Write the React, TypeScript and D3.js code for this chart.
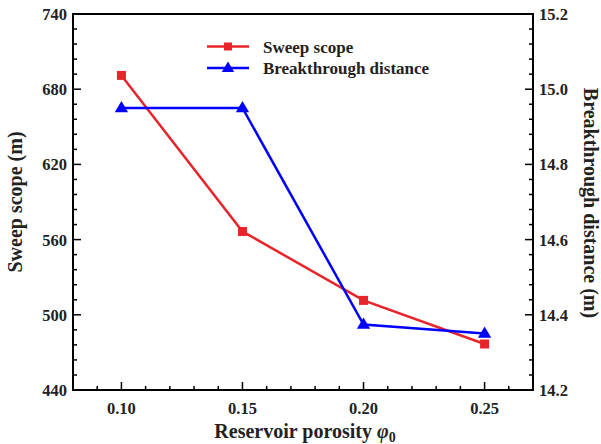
import React from "react";
import * as d3 from "d3";

const porosity = [0.1, 0.15, 0.2, 0.25];
const sweepScope = [691, 566.5, 511.5, 476.7];
const breakthrough = [14.95, 14.95, 14.374, 14.35];
const xTicks = [0.1, 0.15, 0.2, 0.25];
const yLeftTicks = [440, 500, 560, 620, 680, 740];
const yRightTicks = [14.2, 14.4, 14.6, 14.8, 15.0, 15.2];

const W = 601, H = 444;
const m = { left: 73, right: 533, top: 14, bottom: 390 };
const RED = "#e8242a";
const BLUE = "#0000ff";
const FONT = "'Liberation Serif', 'Times New Roman', serif";

export default function App() {
  const x = d3.scaleLinear().domain([0.08, 0.27]).range([m.left, m.right]);
  const yL = d3.scaleLinear().domain([440, 740]).range([m.bottom, m.top]);
  const yR = d3.scaleLinear().domain([14.2, 15.2]).range([m.bottom, m.top]);

  const xMinor = d3.range(0.08, 0.2701, 0.01).map((v) => +v.toFixed(3));
  const yLMinor = d3.range(440, 741, 12);
  const yRMinor = d3.range(14.2, 15.2001, 0.04).map((v) => +v.toFixed(3));

  const lineL = d3.line<number>().x((_, i) => x(porosity[i])).y((d) => yL(d));
  const lineR = d3.line<number>().x((_, i) => x(porosity[i])).y((d) => yR(d));

  const tri = (cx: number, cy: number, s = 7) =>
    `M${cx},${cy - s}L${cx + s * 0.95},${cy + s * 0.6}L${cx - s * 0.95},${cy + s * 0.6}Z`;

  const major = 8, minor = 4;

  return (
    <svg width={W} height={H} style={{ position: "absolute", left: 0, top: 0, background: "#fff" }} fontFamily={FONT}>
      <rect x={0} y={0} width={W} height={H} fill="#fff" />
      <g stroke="#000" strokeWidth={1.5}>
        {xMinor.map((v, i) => {
          const isMaj = xTicks.some((t) => Math.abs(t - v) < 1e-6);
          return <line key={"x" + i} x1={x(v)} x2={x(v)} y1={m.bottom} y2={m.bottom - (isMaj ? major : minor)} />;
        })}
        {yLMinor.map((v, i) => {
          const isMaj = yLeftTicks.includes(v);
          return <line key={"yl" + i} x1={m.left} x2={m.left + (isMaj ? major : minor)} y1={yL(v)} y2={yL(v)} />;
        })}
        {yRMinor.map((v, i) => {
          const isMaj = yRightTicks.some((t) => Math.abs(t - v) < 1e-6);
          return <line key={"yr" + i} x1={m.right} x2={m.right - (isMaj ? major : minor)} y1={yR(v)} y2={yR(v)} />;
        })}
      </g>
      <rect x={m.left} y={m.top} width={m.right - m.left} height={m.bottom - m.top} fill="none" stroke="#000" strokeWidth={2} />
      <g fontSize={16.5} fontWeight="bold" fill="#222">
        {xTicks.map((t) => (
          <text key={t} x={x(t)} y={m.bottom + 24} textAnchor="middle">{t.toFixed(2)}</text>
        ))}
        {yLeftTicks.map((t) => (
          <text key={t} x={m.left - 6} y={yL(t) + 6} textAnchor="end">{t}</text>
        ))}
        {yRightTicks.map((t) => (
          <text key={t} x={m.right + 6} y={yR(t) + 6} textAnchor="start">{t.toFixed(1)}</text>
        ))}
      </g>
      <text x={305} y={438} textAnchor="middle" fontSize={20} fontWeight="bold" fill="#222">
        Reservoir porosity <tspan fontStyle="italic">φ</tspan><tspan fontSize={14} dy={4}>0</tspan>
      </text>
      <text transform={`translate(22,${202}) rotate(-90)`} textAnchor="middle" fontSize={20} fontWeight="bold" fill="#222">
        Sweep scope (m)
      </text>
      <text transform={`translate(584,${203}) rotate(90)`} textAnchor="middle" fontSize={20} fontWeight="bold" fill="#222">
        Breakthrough distance (m)
      </text>
      <path d={lineL(sweepScope) || ""} fill="none" stroke={RED} strokeWidth={2.5} />
      {sweepScope.map((v, i) => (
        <rect key={"s" + i} x={x(porosity[i]) - 4.5} y={yL(v) - 4.5} width={9} height={9} fill={RED} />
      ))}
      <path d={lineR(breakthrough) || ""} fill="none" stroke={BLUE} strokeWidth={2.5} />
      {breakthrough.map((v, i) => (
        <path key={"b" + i} d={tri(x(porosity[i]), yR(v))} fill={BLUE} />
      ))}
      <g>
        <line x1={207} x2={249} y1={46.5} y2={46.5} stroke={RED} strokeWidth={2.5} />
        <rect x={228 - 4} y={46.5 - 4} width={8} height={8} fill={RED} />
        <text x={263} y={52.5} fontSize={17} fontWeight="bold" fill="#222">Sweep scope</text>
        <line x1={207} x2={249} y1={68} y2={68} stroke={BLUE} strokeWidth={2.5} />
        <path d={tri(228, 68, 6.5)} fill={BLUE} />
        <text x={263} y={74} fontSize={17} fontWeight="bold" fill="#222">Breakthrough distance</text>
      </g>
    </svg>
  );
}
